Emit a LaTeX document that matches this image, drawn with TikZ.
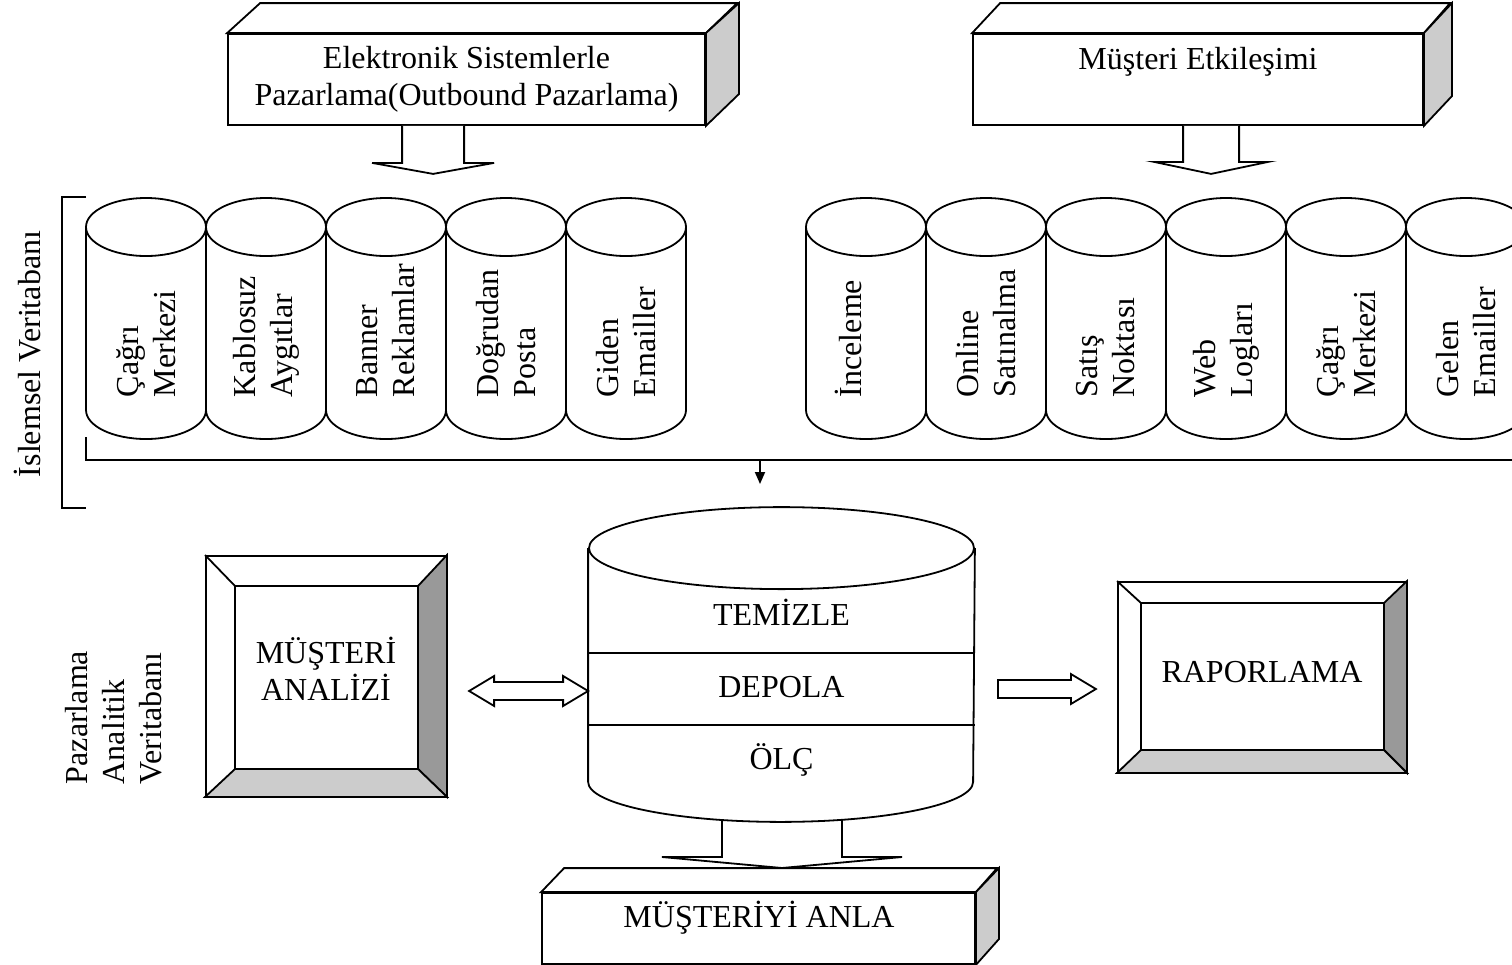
\documentclass[tikz,border=0pt]{standalone}
\usepackage{fontspec}
\setmainfont{Liberation Serif}
\usetikzlibrary{arrows.meta,calc}
\begin{document}
\begin{tikzpicture}[x=0.5pt,y=-0.5pt,
  line width=0.9pt, line join=miter,
  every node/.style={font=\fontsize{16}{18.5}\selectfont, inner sep=0pt},
  frontface/.style={draw, fill=white},
  sideface/.style={draw, fill=gray!40},
  darkface/.style={draw, fill=gray!80},
  caption/.style={align=center},
  vlabel/.style={rotate=90, anchor=west, align=left},
  blockarrow/.style={draw, fill=white},
]
\useasboundingbox (0,0) rectangle (1512,965);

% ---------- source boxes (3D) ----------
\node[frontface, minimum width=238.5pt, minimum height=45.5pt] (src1) at (466.5,79.5) {};
\draw[fill=white] (src1.north west) -- ++(33,-30) -- ++(477,0) -- (src1.north east) -- cycle;
\draw[sideface] (src1.north east) -- ++(33,-30) -- ++(0,91) -- (src1.south east) -- cycle;
\node[caption] (src1txt) at (466.5,79) {Elektronik Sistemlerle\\Pazarlama(Outbound Pazarlama)};

\node[frontface, minimum width=225pt, minimum height=45.5pt] (src2) at (1198,79.5) {};
\draw[fill=white] (src2.north west) -- ++(28,-30) -- ++(450,0) -- (src2.north east) -- cycle;
\draw[sideface] (src2.north east) -- ++(28,-30) -- ++(0,93) -- (src2.south east) -- cycle;
\node[caption] (src2txt) at (1198,62) {Müşteri Etkileşimi};

% block arrows from the sources down to the databases
\draw[blockarrow] ($(src1.south west)+(175,0)$) -- ++(0,37) -- ++(-30,0) -- ++(61,11) -- ++(61,-11) -- ++(-30,0) -- ++(0,-37);
\draw[blockarrow] ($(src2.south west)+(211,0)$) -- ++(0,36) -- ++(-29,0) -- ++(57,12) -- ++(57,-12) -- ++(-29,0) -- ++(0,-36);

% ---------- operational databases ----------
\draw (86,197) -- (62,197) -- (62,508) -- (86,508);
\node[rotate=90] (opdb) at (28,354) {İslemsel Veritabanı};

\foreach \cx in {146,266,386,506,626,866,986,1106,1226,1346,1466} {
  \fill[white] (\cx-60,227) rectangle (\cx+60,410);
  \fill[white] (\cx,410) ellipse[x radius=30pt, y radius=14.5pt];
}
\foreach \cx in {146,266,386,506,626,866,986,1106,1226,1346,1466} {
  \draw (\cx-60,227) -- (\cx-60,410) arc[start angle=180, end angle=360, x radius=30pt, y radius=14.5pt] -- (\cx+60,227);
  \draw (\cx,227) ellipse[x radius=30pt, y radius=14.5pt];
}
\foreach \cx/\dx/\txt [count=\i] in {
    146/0/{Çağrı\\Merkezi}, 266/0/{Kablosuz\\Aygıtlar}, 386/0/{Banner\\Reklamlar},
    506/0/{Doğrudan\\Posta}, 626/0/{Giden\\Emailler},
    866/-18/{İnceleme}, 986/0/{Online\\Satınalma}, 1106/0/{Satış\\Noktası},
    1226/0/{Web\\Logları}, 1346/0/{Çağrı\\Merkezi}, 1466/0/{Gelen\\Emailler}} {
  \node[vlabel] (ds\i) at (\cx+\dx,398) {\txt};
}

% collecting bar and feed into the warehouse
\coordinate (barstart) at (86,437);
\coordinate (barend) at (1512,460);
\draw (barstart) -- (barstart |- barend) -- (barend);
\coordinate (tap) at (760,460);
\coordinate (tapend) at (760,484);
\draw[-{Triangle[length=6pt, width=5pt]}] (tap) -- (tapend);

% ---------- warehouse cylinder ----------
\node[minimum width=192.5pt, minimum height=116pt] (dw) at (781.5,665) {};

% output arrow (drawn first so the cylinder covers its top)
\draw[blockarrow] (722,812) -- (722,857) -- (662,857) -- (782,868) -- (902,857) -- (842,857) -- (842,812);

\fill[white] (dw.north west) rectangle (dw.south east);
\fill[white] (dw.south) ellipse[x radius=96.25pt, y radius=20pt];
\draw (dw.north west) -- (dw.south west) arc[start angle=180, end angle=360, x radius=96.25pt, y radius=20pt] -- (dw.north east);
\draw[fill=white] (dw.north) ellipse[x radius=96.25pt, y radius=20.5pt];
\draw (dw.west |- 0,653) -- (dw.east |- 0,653);
\draw (dw.west |- 0,725) -- (dw.east |- 0,725);
\node (clean) at (781.5,612) {TEMİZLE};
\node (store) at (781.5,687) {DEPOLA};
\node (measure) at (781.5,760) {ÖLÇ};

% ---------- customer analysis (bevelled) ----------
\node[draw, fill=white, minimum width=120pt, minimum height=120pt] (ma) at (326,676) {};
\coordinate (ma1) at ($(ma.north west)+(30,31)$);
\coordinate (ma2) at ($(ma.north east)+(-29,31)$);
\coordinate (ma3) at ($(ma.south east)+(-29,-28)$);
\coordinate (ma4) at ($(ma.south west)+(30,-28)$);
\draw[darkface] (ma.north east) -- (ma.south east) -- (ma3) -- (ma2) -- cycle;
\draw[sideface] (ma.south west) -- (ma.south east) -- (ma3) -- (ma4) -- cycle;
\draw (ma.north west) -- (ma1);
\draw (ma1) rectangle (ma3);
\node[caption] (matxt) at (326,669) {MÜŞTERİ\\ANALİZİ};

\node[vlabel] (madb) at (114,785) {Pazarlama\\Analitik\\Veritabanı};

% two-way arrow between analysis and warehouse
\coordinate (dl) at (dw.west |- 0,691);
\draw[blockarrow] (dl) -- ++(-25,-15) -- ++(0,6) -- ++(-69,0) -- ++(0,-6) -- ++(-25,15)
  -- ++(25,15) -- ++(0,-6) -- ++(69,0) -- ++(0,6) -- cycle;

% ---------- reporting (bevelled) ----------
\node[draw, fill=white, minimum width=144pt, minimum height=95pt] (rp) at (1262,677) {};
\coordinate (rp1) at ($(rp.north west)+(24,22)$);
\coordinate (rp2) at ($(rp.north east)+(-23,22)$);
\coordinate (rp3) at ($(rp.south east)+(-23,-23)$);
\coordinate (rp4) at ($(rp.south west)+(24,-23)$);
\draw[darkface] (rp.north east) -- (rp.south east) -- (rp3) -- (rp2) -- cycle;
\draw[sideface] (rp.south west) -- (rp.south east) -- (rp3) -- (rp4) -- cycle;
\draw (rp.north west) -- (rp1);
\draw (rp1) rectangle (rp3);
\node (rptxt) at (1262,672) {RAPORLAMA};

% arrow from warehouse to reporting
\coordinate (rtail) at ($(dw.east |- 0,680)+(23,0)$);
\draw[blockarrow] (rtail) -- ++(73,0) -- ++(0,-6) -- ++(25,15) -- ++(-25,15) -- ++(0,-6) -- ++(-73,0) -- cycle;

% ---------- understand the customer (3D) ----------
\node[frontface, minimum width=216.5pt, minimum height=35.5pt] (anla) at (758.5,928.5) {};
\draw[fill=white] (anla.north west) -- ++(23,-24) -- ++(433,0) -- (anla.north east) -- cycle;
\draw[sideface] (anla.north east) -- ++(23,-24) -- ++(0,71) -- (anla.south east) -- cycle;
\node (anlatxt) at (759,918) {MÜŞTERİYİ ANLA};
\end{tikzpicture}
\end{document}
